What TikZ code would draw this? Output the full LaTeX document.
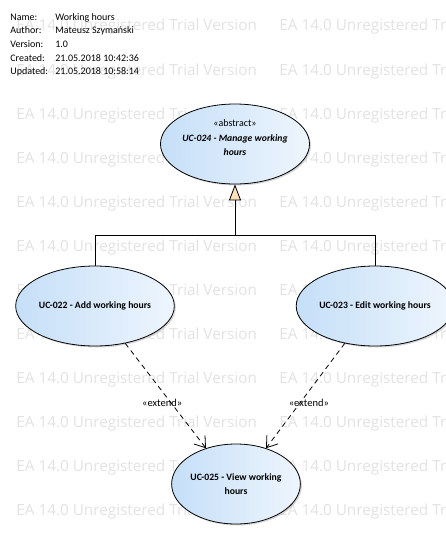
\documentclass[tikz,border=0pt]{standalone}
\usepackage{fontspec}
\setmainfont{Carlito}
\newfontfamily\wmfont{Open Sans}
\usetikzlibrary{shapes.geometric,arrows.meta,shadows}
\definecolor{ucleft}{RGB}{197,223,248}
\definecolor{ucright}{RGB}{238,245,253}
\definecolor{genfill}{RGB}{253,225,185}
\definecolor{wmgray}{RGB}{226,226,226}
\begin{document}
\begin{tikzpicture}[x=1pt,y=-1pt,line width=0.8pt,font=\fontsize{10}{11}\selectfont,
  usecase/.style={ellipse,draw,left color=ucleft,right color=ucright,minimum width=121pt,minimum height=80pt,inner sep=0pt,align=center,font=\fontsize{9.7}{13.5}\selectfont\bfseries,drop shadow={shadow xshift=1.5pt,shadow yshift=-1.5pt,fill=black!40,opacity=0.4}},
  gen/.style={-{Triangle[width=12pt,length=16pt,fill=genfill]}},
  ext/.style={dash pattern=on 5pt off 4pt,-{Straight Barb[length=10pt,width=14pt]}},
  stereo/.style={font=\fontsize{10.5}{11}\selectfont},
  wm/.style={anchor=base west,inner sep=0pt,text=wmgray,font=\wmfont\fontsize{15.3}{17}\selectfont}]
\useasboundingbox (0,0) rectangle (445,535);
\begin{scope}
\clip (0,0) rectangle (445,535);
\foreach \r in {0,...,11} {
  \node[wm] (wma\r) at (16,31+44*\r) {EA 14.0 Unregistered Trial Version};
  \node[wm] (wmb\r) at (279,31+44*\r) {EA 14.0 Unregistered Trial Version};
}
\end{scope}
\foreach \k/\v [count=\i] in {Name:/Working hours,Author:/Mateusz Szymański,Version:/1.0,Created:/21.05.2018 10:42:36,Updated:/21.05.2018 10:58:14} {
  \node[anchor=base west,inner sep=0pt] (lab\i) at (10,7+13.5*\i) {\k};
  \node[anchor=base west,inner sep=0pt] (val\i) at (55,7+13.5*\i) {\v};
}
\node[usecase,font=\fontsize{9.7}{13.5}\selectfont\bfseries\itshape] (manage) at (235,144) {{\fontsize{10}{10}\selectfont\mdseries\upshape «abstract»}\\[2pt]UC-024 - Manage working\\hours\\\mbox{}};
\node[usecase] (add) at (95,306) {UC-022 - Add working hours};
\node[usecase] (edit) at (375,306) {UC-023 - Edit working hours};
\node[usecase] (view) at (236,484) {UC-025 - View working\\hours};
\coordinate (junc) at (235,235);
\draw [gen] (add.north) |- (junc) -- (manage.south);
\draw (edit.north) |- (junc);
\draw [ext] (add.-51) -- (view.130) node[stereo,pos=0.57,xshift=-9pt] (extl) {«extend»};
\draw [ext] (edit.-129) -- (view.50) node[stereo,pos=0.57,xshift=9pt] (extr) {«extend»};
\end{tikzpicture}
\end{document}
